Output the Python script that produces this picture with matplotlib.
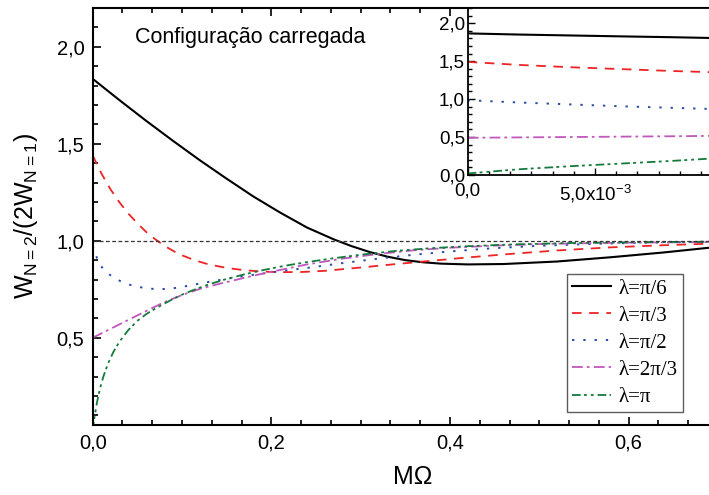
"""
W_{N=2}/(2W_{N=1}) em função de MΩ, configuração carregada
"""

import matplotlib
matplotlib.use('Agg')
import matplotlib.pyplot as plt
from matplotlib.ticker import AutoMinorLocator, FuncFormatter, MultipleLocator

plt.rcParams['font.family'] = ['Liberation Sans', 'DejaVu Sans']
plt.rcParams['mathtext.fontset'] = 'custom'
plt.rcParams['mathtext.rm'] = 'Liberation Sans'
plt.rcParams['mathtext.default'] = 'regular'

# curvas principais
x_pi6 = [0, 0.03, 0.06, 0.09, 0.12, 0.15, 0.18, 0.21, 0.24, 0.27, 0.29, 0.31,
         0.33, 0.35, 0.37, 0.39, 0.42, 0.46, 0.52, 0.58, 0.64, 0.69]
y_pi6 = [1.835, 1.725, 1.618, 1.515, 1.415, 1.32, 1.228, 1.145, 1.068, 1.007, 0.972,
         0.942, 0.918, 0.90, 0.889, 0.882, 0.878, 0.880, 0.893, 0.915, 0.94, 0.964]

x_pi3 = [0, 0.01, 0.02, 0.03, 0.04, 0.05, 0.06, 0.07, 0.08, 0.09, 0.10, 0.115,
         0.13, 0.15, 0.17, 0.19, 0.21, 0.235, 0.26, 0.30, 0.34, 0.38, 0.42, 0.47,
         0.52, 0.58, 0.64, 0.69]
y_pi3 = [1.44, 1.345, 1.265, 1.198, 1.14, 1.09, 1.045, 1.008, 0.975, 0.948, 0.925,
         0.898, 0.878, 0.86, 0.848, 0.841, 0.838, 0.839, 0.845, 0.862, 0.88, 0.897,
         0.914, 0.933, 0.95, 0.966, 0.977, 0.985]

x_pi2 = [0, 0.004, 0.008, 0.013, 0.019, 0.025, 0.031, 0.04, 0.05, 0.06, 0.07,
         0.08, 0.09, 0.10, 0.115, 0.13, 0.15, 0.17, 0.19, 0.215, 0.24, 0.28, 0.32,
         0.36, 0.40, 0.45, 0.50, 0.56, 0.62, 0.69]
y_pi2 = [0.975, 0.92, 0.878, 0.848, 0.825, 0.806, 0.792, 0.775, 0.763, 0.755, 0.751,
         0.751, 0.755, 0.762, 0.775, 0.788, 0.804, 0.818, 0.831, 0.846, 0.86, 0.885,
         0.908, 0.928, 0.945, 0.962, 0.974, 0.984, 0.99, 0.995]

x_2pi3 = [0, 0.02, 0.04, 0.06, 0.08, 0.10, 0.12, 0.14, 0.16, 0.18, 0.20, 0.24,
          0.28, 0.32, 0.36, 0.40, 0.45, 0.50, 0.56, 0.62, 0.69]
y_2pi3 = [0.5, 0.546, 0.592, 0.638, 0.683, 0.72, 0.752, 0.776, 0.798, 0.82, 0.84,
          0.878, 0.908, 0.932, 0.951, 0.964, 0.975, 0.983, 0.988, 0.991, 0.993]

x_pi = [0, 0.002, 0.005, 0.008, 0.012, 0.017, 0.023, 0.03, 0.04, 0.05, 0.06, 0.07,
        0.08, 0.09, 0.10, 0.115, 0.13, 0.15, 0.17, 0.19, 0.215, 0.24, 0.27, 0.30,
        0.34, 0.38, 0.42, 0.47, 0.53, 0.60, 0.69]
y_pi = [0.02, 0.09, 0.17, 0.235, 0.30, 0.365, 0.425, 0.48, 0.54, 0.587, 0.622, 0.65,
        0.675, 0.70, 0.722, 0.75, 0.775, 0.803, 0.827, 0.848, 0.871, 0.89, 0.91, 0.928,
        0.948, 0.962, 0.972, 0.981, 0.988, 0.992, 0.995]

# inset (MΩ pequeno)
x_in = [0, 0.002, 0.004, 0.006, 0.008, 0.0095]
y_in_pi6 = [1.865, 1.85, 1.838, 1.826, 1.815, 1.805]
y_in_pi3 = [1.49, 1.45, 1.42, 1.395, 1.37, 1.355]
y_in_pi2 = [0.985, 0.955, 0.93, 0.905, 0.885, 0.87]
y_in_2pi3 = [0.49, 0.495, 0.50, 0.505, 0.51, 0.515]
y_in_pi = [0.02, 0.075, 0.115, 0.15, 0.185, 0.215]

labels = ['λ=π/6', 'λ=π/3', 'λ=π/2', 'λ=2π/3', 'λ=π']
colors = ['black', '#ee2424', '#2b4ba5', '#c157bd', '#137b3b']
styles = ['-', (0, (5.3, 4.2)), (0, (1.2, 4.6)), (0, (6, 2.2, 1.5, 2.4)),
          (0, (4.8, 1.8, 1.6, 2.2, 1.6, 2.2))]
widths = [1.5, 1.3, 1.4, 1.3, 1.3]


def comma(v, pos):
    return f'{v:.1f}'.replace('.', ',')


fig = plt.figure(figsize=(7.09, 4.95), dpi=100)
ax = fig.add_axes([0.1307, 0.1414, 0.8693, 0.8424])

main_x = [x_pi6, x_pi3, x_pi2, x_2pi3, x_pi]
main_y = [y_pi6, y_pi3, y_pi2, y_2pi3, y_pi]
for xs, ys, lab, c, ls, lw in zip(main_x, main_y, labels, colors, styles, widths):
    ax.plot(xs, ys, color=c, linestyle=ls, linewidth=lw, label=lab)

ax.axhline(1.0, color='#333333', linestyle=(0, (3, 2)), linewidth=0.9)

ax.set_xlim(0, 0.69)
ax.set_ylim(0.05, 2.2)
ax.xaxis.set_major_locator(MultipleLocator(0.2))
ax.xaxis.set_minor_locator(AutoMinorLocator(6))
ax.yaxis.set_major_locator(MultipleLocator(0.5))
ax.yaxis.set_minor_locator(AutoMinorLocator(5))
ax.xaxis.set_major_formatter(FuncFormatter(comma))
ax.yaxis.set_major_formatter(FuncFormatter(comma))
ax.tick_params(which='both', direction='in', top=True, right=False, width=1.2)
ax.tick_params(which='major', length=6, labelsize=14.5, pad=6)
ax.tick_params(which='minor', length=3.5)
ax.spines['right'].set_visible(False)
for s in ['left', 'bottom', 'top']:
    ax.spines[s].set_linewidth(1.5)

ax.set_xlabel('MΩ', fontsize=18)
ax.set_ylabel('W$_{\\mathregular{N{=}2}}$/(2W$_{\\mathregular{N{=}1}}$)', fontsize=18)
ax.xaxis.set_label_coords(0.52, -0.095)
ax.yaxis.set_label_coords(-0.085, 0.5)

ax.text(0.0686, 0.915, 'Configuração carregada', transform=ax.transAxes,
        fontsize=15.5, va='baseline', ha='left')

leg = ax.legend(loc='lower right', bbox_to_anchor=(0.958, 0.031), borderaxespad=0,
                prop={'family': 'Liberation Serif', 'size': 15}, fancybox=False,
                edgecolor='#333333', handlelength=1.9, handletextpad=0.35,
                labelspacing=0.36, borderpad=0.25)
leg.get_frame().set_linewidth(1.0)

# inset
axin = fig.add_axes([0.6597, 0.6465, 0.3403, 0.3374])
inset_y = [y_in_pi6, y_in_pi3, y_in_pi2, y_in_2pi3, y_in_pi]
for ys, c, ls, lw in zip(inset_y, colors, styles, widths):
    axin.plot(x_in, ys, color=c, linestyle=ls, linewidth=lw)

axin.set_xlim(0, 0.00948)
axin.set_ylim(0, 2.2)
axin.set_xticks([0, 5e-3])
axin.set_xticklabels(['0,0', '5,0x10$^{\\mathregular{-3}}$'])
axin.xaxis.set_minor_locator(MultipleLocator(5e-3 / 6))
axin.yaxis.set_major_locator(MultipleLocator(0.5))
axin.yaxis.set_minor_locator(AutoMinorLocator(5))
axin.yaxis.set_major_formatter(FuncFormatter(comma))
axin.tick_params(which='both', direction='in', top=False, right=False, width=1.0)
axin.tick_params(which='major', length=5, labelsize=13.5, pad=2)
axin.tick_params(axis='x', which='major', pad=5.5)
axin.tick_params(which='minor', length=3)
axin.spines['right'].set_visible(False)
for s in ['left', 'bottom', 'top']:
    axin.spines[s].set_linewidth(1.3)

plt.savefig('out.png', dpi=100)
plt.close()
